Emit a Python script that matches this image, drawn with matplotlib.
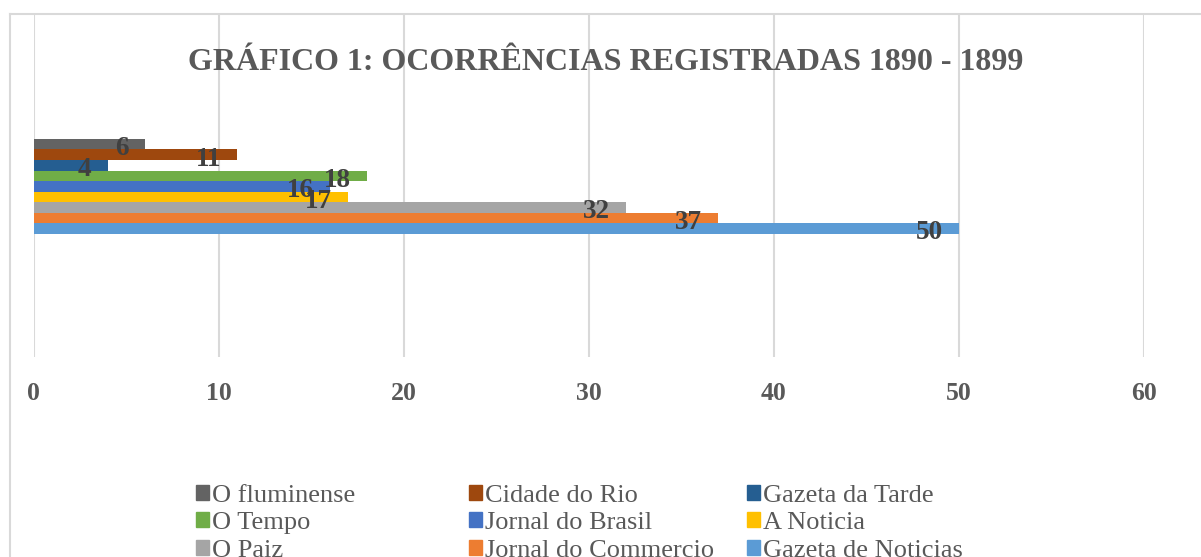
import matplotlib.pyplot as plt
from matplotlib.patches import Patch
from matplotlib.lines import Line2D

# series listed bottom bar -> top bar
jornais = ['Gazeta de Noticias', 'Jornal do Commercio', 'O Paiz', 'A Noticia',
           'Jornal do Brasil', 'O Tempo', 'Gazeta da Tarde', 'Cidade do Rio', 'O fluminense']
ocorrencias = [50, 37, 32, 17, 16, 18, 4, 11, 6]
cores = ['#5B9BD5', '#ED7D31', '#A5A5A5', '#FFC000', '#4472C4',
         '#70AD47', '#255E91', '#9E480E', '#636363']
xticks = [0, 10, 20, 30, 40, 50, 60]

# legend columns as laid out in the reference
colunas = [['O fluminense', 'O Tempo', 'O Paiz'],
           ['Cidade do Rio', 'Jornal do Brasil', 'Jornal do Commercio'],
           ['Gazeta da Tarde', 'A Noticia', 'Gazeta de Noticias']]

plt.rcParams['font.family'] = ['Liberation Serif', 'DejaVu Serif']

W, H = 1201, 557
fig = plt.figure(figsize=(W / 100, H / 100), dpi=100)

# outer chart border (only top/left visible in the crop)
fig.add_artist(Line2D([10 / W, 10 / W], [0, 1 - 14 / H], color='#D9D9D9', lw=1.5))
fig.add_artist(Line2D([10 / W, 1], [1 - 14 / H, 1 - 14 / H], color='#D9D9D9', lw=1.5))

ax = fig.add_axes([33.5 / W, 1 - 357 / H, (1143.5 - 33.5) / W, (357 - 15) / H])
ax.set_xlim(0, 60)
ax.set_ylim(0, 1)

h = 95 / 342 / len(jornais)
for i, (nome, v, c) in enumerate(zip(jornais, ocorrencias, cores)):
    y = 0.499 + (i - 4) * h
    ax.barh(y, v, height=h, color=c, label=nome, zorder=3)
    ax.annotate(str(v), (v, y), xytext=(-11.5, -1.0), textcoords='offset points',
                ha='right', va='center_baseline', fontsize=19.5, fontweight='bold',
                color='#404040', zorder=4)

ax.set_xticks(xticks)
ax.set_yticks([])
ax.grid(axis='x', color='#D9D9D9', lw=1.5, zorder=0)
for s in ax.spines.values():
    s.set_visible(False)
ax.tick_params(axis='x', length=0, pad=18, labelsize=18.5, labelcolor='#595959')
for t in ax.get_xticklabels():
    t.set_fontweight('bold')

fig.text(606 / W, 1 - 62 / H, 'GRÁFICO 1: OCORRÊNCIAS REGISTRADAS 1890 - 1899',
         ha='center', va='center', fontsize=23, fontweight='bold', color='#595959')

# one legend per column so columns sit at equal spacing like Excel
for x0, nomes in zip([196, 469, 747], colunas):
    handles = [Patch(color=cores[jornais.index(n)]) for n in nomes]
    leg = fig.legend(handles, nomes, ncol=1, loc='upper left',
                     bbox_to_anchor=(x0 / W, 1 - 485 / H), frameon=False,
                     prop={'size': 19}, handlelength=0.5, handleheight=0.5,
                     handletextpad=0.1, labelspacing=0.2,
                     borderpad=0, borderaxespad=0)
    for t in leg.get_texts():
        t.set_color('#595959')

fig.savefig('out.png', dpi=100)
